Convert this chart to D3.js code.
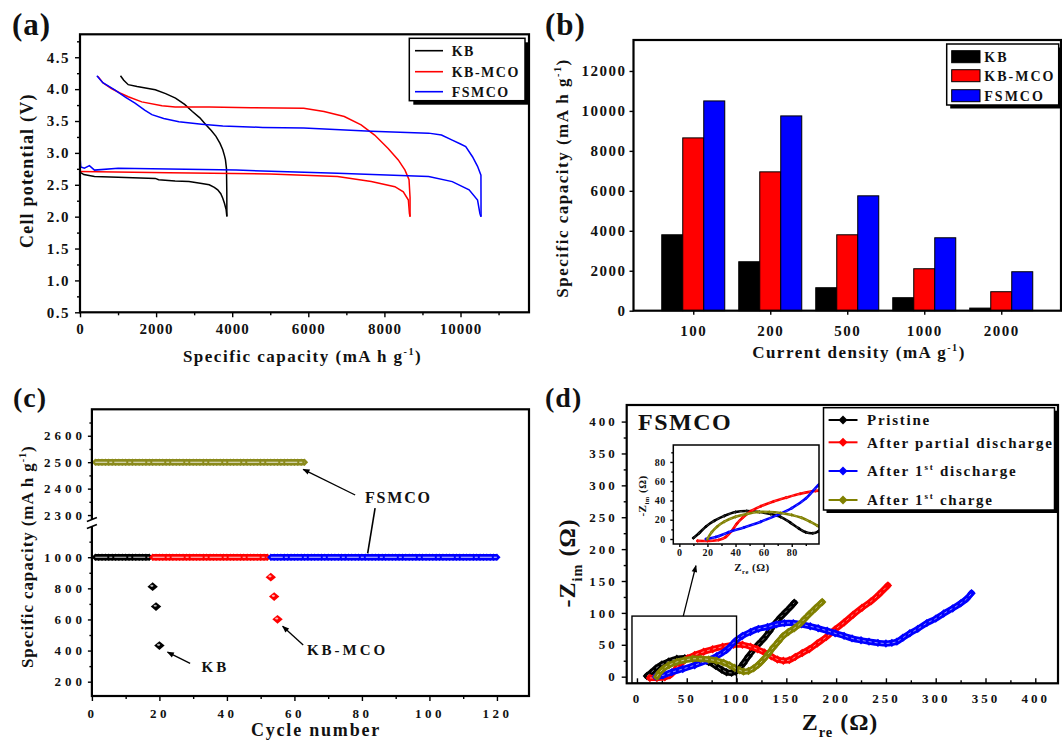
<!DOCTYPE html>
<html><head><meta charset="utf-8">
<script src="https://cdn.jsdelivr.net/npm/d3@7"></script>
<style>
html,body{margin:0;padding:0;background:#fff;}
svg text{font-family:"Liberation Serif","Times New Roman",serif;font-weight:bold;fill:#111;}
</style></head><body>
<svg id="fig" width="1062" height="742"></svg>
<script>
// ================= DATA =================
// (a) charge / discharge profiles  [capacity mAh/g, potential V]
const kbCharge = [[1064,4.21],[1150,4.14],[1268,4.07],[1500,4.04],[1978,3.99],[2250,3.93],[2510,3.86],[2750,3.76],[2953,3.65],[3150,3.55],[3308,3.44],[3450,3.35],[3574,3.26],[3680,3.15],[3752,3.05],[3800,2.95],[3823,2.89],[3850,2.75],[3858,2.4],[3860,2.0]];
const kbDischarge = [[0,2.70],[100,2.66],[381,2.63],[1000,2.62],[1978,2.60],[2067,2.58],[2500,2.56],[2865,2.55],[3200,2.52],[3397,2.50],[3530,2.46],[3619,2.42],[3700,2.36],[3752,2.29],[3796,2.21],[3840,2.11],[3858,2.01]];
const kbmcoCharge = [[470,4.20],[600,4.10],[825,4.01],[1050,3.94],[1268,3.88],[1623,3.80],[2155,3.74],[2500,3.72],[3397,3.72],[4500,3.71],[5880,3.70],[6412,3.65],[6945,3.57],[7388,3.44],[7743,3.28],[8098,3.07],[8364,2.89],[8541,2.73],[8647,2.58],[8674,2.3],[8674,2.0]];
const kbmcoDischarge = [[0,2.71],[2333,2.69],[4993,2.67],[6767,2.63],[7654,2.55],[8275,2.47],[8497,2.39],[8630,2.26],[8657,2.05],[8674,2.0]];
const fsmcoCharge = [[443,4.21],[600,4.10],[913,3.99],[1200,3.87],[1446,3.78],[1700,3.67],[1889,3.60],[2200,3.54],[2599,3.49],[3200,3.45],[3752,3.42],[4800,3.40],[5880,3.39],[7654,3.34],[9162,3.31],[9500,3.28],[9783,3.20],[10000,3.14],[10137,3.10],[10315,2.94],[10448,2.79],[10537,2.65],[10540,2.0]];
const fsmcoDischarge = [[0,3.41],[5,2.9],[20,2.78],[115,2.76],[248,2.80],[381,2.73],[1002,2.76],[4106,2.73],[6767,2.68],[9162,2.63],[9783,2.55],[10226,2.42],[10448,2.26],[10510,2.05],[10537,2.0]];
const aXTicks = [0,2000,4000,6000,8000,10000];
const aXMinor = [1000,3000,5000,7000,9000,11000];
const aYTicks = [0.5,1.0,1.5,2.0,2.5,3.0,3.5,4.0,4.5];
const aYMinor = [0.75,1.25,1.75,2.25,2.75,3.25,3.75,4.25,4.75];
const aLegend = ["KB","KB-MCO","FSMCO"];

// (b) rate capability
const bCategories = ["100","200","500","1000","2000"];
const bKB    = [3800,2450,1150,650,130];
const bKBMCO = [8650,6950,3800,2100,950];
const bFSMCO = [10500,9750,5750,3650,1950];
const bYTicks = [0,2000,4000,6000,8000,10000,12000];

// (c) cycling (capacity per cycle, first cycle number given)
const cKbStart = 1;
const cKbCap = [
 1000,1000,1000,1000,1000,1000,1000,1000,1000,1000,
 1000,1000,1000,1000,1000,1000,1000];
const cKbDrop = [[18,811],[19,683],[20,432]];
const cKbmcoStart = 18;
const cKbmcoCap = [
 1000,1000,1000,1000,1000,1000,1000,1000,1000,1000,
 1000,1000,1000,1000,1000,1000,1000,1000,1000,1000,
 1000,1000,1000,1000,1000,1000,1000,1000,1000,1000,
 1000,1000,1000,1000,1000];
const cKbmcoDrop = [[53,872],[54,747],[55,601]];
const cFsmcoLowStart = 53;
const cFsmcoLowCap = [
 1000,1000,1000,1000,1000,1000,1000,1000,1000,1000,
 1000,1000,1000,1000,1000,1000,1000,1000,1000,1000,
 1000,1000,1000,1000,1000,1000,1000,1000,1000,1000,
 1000,1000,1000,1000,1000,1000,1000,1000,1000,1000,
 1000,1000,1000,1000,1000,1000,1000,1000,1000,1000,
 1000,1000,1000,1000,1000,1000,1000,1000,1000,1000,
 1000,1000,1000,1000,1000,1000,1000,1000];
const cFsmcoHighStart = 1;
const cFsmcoHighCap = [
 2500,2500,2500,2500,2500,2500,2500,2500,2500,2500,
 2500,2500,2500,2500,2500,2500,2500,2500,2500,2500,
 2500,2500,2500,2500,2500,2500,2500,2500,2500,2500,
 2500,2500,2500,2500,2500,2500,2500,2500,2500,2500,
 2500,2500,2500,2500,2500,2500,2500,2500,2500,2500,
 2500,2500,2500,2500,2500,2500,2500,2500,2500,2500,
 2500,2500,2500];
const cXTicks = [0,20,40,60,80,100,120];
const cXMinor = [10,30,50,70,90,110];
const cYUpTicks = [2300,2400,2500,2600];
const cYUpMinor = [2350,2450,2550,2650];
const cYLoTicks = [200,400,600,800,1000];
const cYLoMinor = [300,500,700,900,1100];

// (d) Nyquist plots [Z_re, -Z_im] (ohm)
const dPristine = [[10,1],[14,6],[19,13],[25,19],[32,24],[40,28],[48,29],[57,28],[65,26],[72,23],[79,17],[85,11],[90,7],[95,6],[99,8],[103,13],[107,21],[112,32],[117,42],[122,51],[127,59],[133,71],[139,84],[144,93],[149,101],[154,109],[158,116]];
const dPartial = [[13,-2],[20,-2],[28,-1],[33,2],[37,8],[41,16],[45,22],[51,29],[58,34],[67,39],[76,43],[86,47],[97,50],[106,50],[114,47],[121,43],[128,38],[135,32],[141,27],[147,25],[153,26],[159,31],[166,37],[173,43],[181,52],[190,62],[199,74],[208,85],[217,97],[226,108],[235,118],[243,129],[252,143]];
const dDischarge1 = [[19,0],[26,2],[35,7],[46,12],[58,18],[70,25],[80,32],[90,42],[99,56],[106,64],[114,70],[122,75],[131,78],[140,82],[148,84],[157,84],[165,82],[174,79],[182,76],[191,72],[199,68],[208,64],[216,60],[225,57],[233,55],[242,53],[250,52],[256,53],[261,55],[267,61],[274,68],[282,75],[291,84],[300,91],[308,99],[317,107],[325,115],[331,122],[336,131]];
const dCharge1 = [[20,0],[23,7],[27,13],[32,18],[40,23],[48,26],[56,28],[64,28],[72,27],[80,25],[87,22],[93,18],[98,14],[103,10],[107,8],[112,9],[117,13],[122,19],[127,27],[132,36],[137,46],[142,55],[147,64],[152,70],[158,76],[163,82],[168,90],[173,98],[179,107],[186,117]];
const dTicks = [0,50,100,150,200,250,300,350,400];
const dMinor = [25,75,125,175,225,275,325,375];
const dInsetTicks = [0,20,40,60,80];
const dInsetMinor = [10,30,50,70,90];

// ================= DRAWING =================
const svg = d3.select("#fig");
svg.append("rect").attr("width",1062).attr("height",742).attr("fill","#fff");
const defs = svg.append("defs");
defs.append("marker").attr("id","arr").attr("viewBox","0 0 10 10")
  .attr("refX",9).attr("refY",5).attr("markerWidth",8).attr("markerHeight",7)
  .attr("markerUnits","userSpaceOnUse").attr("orient","auto")
  .append("path").attr("d","M0,1 L10,5 L0,9 Z").attr("fill","#000");
const fmtInt = d3.format("d");

function mkAxis(parent, gen, tx, ty, fs, ls){
  const a = parent.append("g").attr("transform",`translate(${tx},${ty})`).call(gen);
  a.attr("font-family",null).attr("font-size",fs);
  a.select(".domain").remove();
  a.selectAll(".tick line").attr("stroke","#000").attr("stroke-width",1.4);
  a.selectAll(".tick text").attr("fill","#111").attr("letter-spacing",ls||0);
  return a;
}
function richText(g, x, y, o, parts){
  const t = g.append("text").attr("font-size",o.fs).attr("letter-spacing",o.ls||0)
    .attr("text-anchor",o.anchor||"middle");
  if(o.rot!==undefined) t.attr("transform",`translate(${x},${y}) rotate(${o.rot})`);
  else t.attr("x",x).attr("y",y);
  if(o.dy) t.attr("dy",o.dy);
  let shift=0;
  parts.forEach(p=>{
    const s=t.append("tspan").text(p.t);
    let target=0,size=null;
    if(p.sup){target=-o.fs*0.42;size=o.fs*0.6;}
    if(p.sub){target=o.fs*0.28;size=o.fs*0.6;}
    if(size) s.attr("font-size",size);
    if(target!==shift){s.attr("dy",target-shift);shift=target;}
  });
  return t;
}
function frame(g,P,w){
  g.append("rect").attr("x",P.l).attr("y",P.t).attr("width",P.r-P.l).attr("height",P.b-P.t)
   .attr("fill","none").attr("stroke","#000").attr("stroke-width",w||2);
}
function legendBox(g,x,y,w,h,off){
  g.append("rect").attr("x",x+off).attr("y",y+off).attr("width",w).attr("height",h).attr("fill","#000");
  g.append("rect").attr("x",x).attr("y",y).attr("width",w).attr("height",h)
   .attr("fill","#fff").attr("stroke","#000").attr("stroke-width",1.5);
}
const diamond = (hw,hh)=>`M0,${-hh} L${hw},0 L0,${hh} L${-hw},0 Z`;

// ---------- (a) ----------
{
  const P={l:80,r:529,t:34.3,b:312.3};
  const g=svg.append("g");
  const x=d3.scaleLinear().domain([0,11800]).range([P.l,P.r]);
  const y=d3.scaleLinear().domain([0.5,4.86]).range([P.b,P.t]);
  mkAxis(g,d3.axisBottom(x).tickValues(aXMinor).tickSize(3).tickFormat(""),0,P.b,15);
  mkAxis(g,d3.axisBottom(x).tickValues(aXTicks).tickSize(5).tickPadding(6).tickFormat(fmtInt),0,P.b,15,1);
  mkAxis(g,d3.axisLeft(y).tickValues(aYMinor).tickSize(3).tickFormat(""),P.l,0,15);
  mkAxis(g,d3.axisLeft(y).tickValues(aYTicks).tickSize(5).tickPadding(5).tickFormat(d3.format(".1f")),P.l,0,15,1.5);
  const line=d3.line().x(d=>x(d[0])).y(d=>y(d[1]));
  const series=[[kbCharge,"#000"],[kbDischarge,"#000"],[kbmcoCharge,"#ff0000"],[kbmcoDischarge,"#ff0000"],[fsmcoCharge,"#0000ff"],[fsmcoDischarge,"#0000ff"]];
  series.forEach(([d,c])=>g.append("path").attr("d",line(d)).attr("fill","none").attr("stroke",c).attr("stroke-width",1.5));
  frame(g,P,2.2);
  legendBox(g,409.3,38.3,115.7,62.4,4);
  const lc=["#000","#ff0000","#0000ff"], ly=[50.7,71.7,91.7];
  aLegend.forEach((n,i)=>{
    g.append("line").attr("x1",415).attr("x2",443).attr("y1",ly[i]).attr("y2",ly[i]).attr("stroke",lc[i]).attr("stroke-width",1.6);
    g.append("text").attr("x",451.7).attr("y",ly[i]).attr("dy","0.35em").attr("font-size",14).attr("letter-spacing",1.5).text(n);
  });
  g.append("text").attr("x",12).attr("y",35).attr("font-size",31).attr("letter-spacing",1).text("(a)");
  richText(g,302.6,362,{fs:17,ls:1.5},[{t:"Specific capacity (mA h g"},{t:"-1",sup:true},{t:")"}]);
  richText(g,27,170.7,{fs:18,ls:1.2,rot:-90,dy:"0.35em"},[{t:"Cell potential (V)"}]);
}

// ---------- (b) ----------
{
  const P={l:633.5,r:1061,t:40,b:310.7};
  const g=svg.append("g");
  const x=d3.scalePoint().domain(bCategories).range([P.l,P.r]).padding(0.776);
  const y=d3.scaleLinear().domain([0,13550]).range([P.b,P.t]);
  const names=["KB","KB-MCO","FSMCO"], cols=["#000","#ff0000","#0000ff"], vals=[bKB,bKBMCO,bFSMCO];
  const inner=d3.scaleBand().domain(names).range([-31.5,31.5]);
  names.forEach((n,si)=>{
    g.selectAll(null).data(vals[si]).join("rect")
     .attr("x",(d,i)=>x(bCategories[i])+inner(n)).attr("width",inner.bandwidth())
     .attr("y",d=>y(d)).attr("height",d=>P.b-y(d))
     .attr("fill",cols[si]).attr("stroke","#000").attr("stroke-width",1);
  });
  mkAxis(g,d3.axisBottom(x).tickSize(4).tickPadding(11),0,P.b,15,1.5);
  mkAxis(g,d3.axisLeft(y).tickValues(bYTicks).tickSize(4).tickPadding(3).tickFormat(fmtInt),P.l,0,15,1.5);
  frame(g,P,2.2);
  legendBox(g,946.7,44,112,61,3.5);
  const ry=[56.7,75.7,95.7];
  names.forEach((n,i)=>{
    g.append("rect").attr("x",951.7).attr("y",ry[i]-6).attr("width",28.3).attr("height",12).attr("fill",cols[i]).attr("stroke","#000").attr("stroke-width",1);
    g.append("text").attr("x",984.3).attr("y",ry[i]).attr("dy","0.35em").attr("font-size",14).attr("letter-spacing",2).text(n);
  });
  g.append("text").attr("x",545).attr("y",35).attr("font-size",31).attr("letter-spacing",1).text("(b)");
  richText(g,859,358,{fs:17,ls:1.5},[{t:"Current density (mA g"},{t:"-1",sup:true},{t:")"}]);
  richText(g,562,178,{fs:17,ls:1.5,rot:-90,dy:"0.35em"},[{t:"Specific capacity (mA h g"},{t:"-1",sup:true},{t:")"}]);
}

// ---------- (c) ----------
{
  const P={l:91.9,r:529,t:409.3,b:696};
  const g=svg.append("g");
  const x=d3.scaleLinear().domain([0,129.5]).range([P.l,P.r]);
  const yUp=d3.scaleLinear().domain([2270,2700]).range([523,P.t]);
  const yLo=d3.scaleLinear().domain([108,1220]).range([P.b,523]);
  mkAxis(g,d3.axisBottom(x).tickValues(cXMinor).tickSize(3).tickFormat(""),0,P.b,13);
  mkAxis(g,d3.axisBottom(x).tickValues(cXTicks).tickSize(5).tickPadding(8).tickFormat(fmtInt),0,P.b,13,3.5);
  mkAxis(g,d3.axisLeft(yUp).tickValues(cYUpMinor).tickSize(2.5).tickFormat(""),P.l,0,13);
  mkAxis(g,d3.axisLeft(yLo).tickValues(cYLoMinor).tickSize(2.5).tickFormat(""),P.l,0,13);
  mkAxis(g,d3.axisLeft(yUp).tickValues(cYUpTicks).tickSize(4).tickPadding(2).tickFormat(fmtInt),P.l,0,13,4);
  mkAxis(g,d3.axisLeft(yLo).tickValues(cYLoTicks).tickSize(4).tickPadding(2).tickFormat(fmtInt),P.l,0,13,4);
  function band(start,caps,yS,col){
    const pts=caps.map((v,i)=>[x(start+i),yS(v)]);
    g.append("path").attr("d",d3.line()(pts)).attr("fill","none").attr("stroke",col).attr("stroke-width",6.4);
    g.selectAll(null).data(pts).join("path").attr("d",diamond(3.6,3.8))
      .attr("transform",d=>`translate(${d[0]},${d[1]})`).attr("fill",col);
    g.append("path").attr("d",d3.line()(pts)).attr("fill","none").attr("stroke","#fff")
      .attr("stroke-width",1.1).attr("stroke-opacity",0.8).attr("stroke-dasharray","12,2,3,2");
  }
  band(cFsmcoHighStart,cFsmcoHighCap,yUp,"#8a8a1c");
  band(cKbStart,cKbCap,yLo,"#000");
  band(cKbmcoStart,cKbmcoCap,yLo,"#ff0000");
  band(cFsmcoLowStart,cFsmcoLowCap,yLo,"#0000ff");
  function drops(d,col){
    const gg=g.selectAll(null).data(d).join("g").attr("transform",p=>`translate(${x(p[0])},${yLo(p[1])})`);
    gg.append("path").attr("d",diamond(5.2,4.4)).attr("fill",col);
    gg.append("ellipse").attr("cx",-0.8).attr("cy",-0.8).attr("rx",1.6).attr("ry",1.1).attr("fill","#fff").attr("opacity",0.7);
  }
  drops(cKbDrop,"#000"); drops(cKbmcoDrop,"#ff0000");
  // annotations
  g.append("line").attr("x1",x(78.0)).attr("y1",yUp(2376)).attr("x2",x(62.6)).attr("y2",yUp(2473))
   .attr("stroke","#000").attr("stroke-width",1.3).attr("marker-end","url(#arr)");
  g.append("line").attr("x1",x(83.9)).attr("y1",yUp(2326)).attr("x2",x(81.7)).attr("y2",yLo(1025))
   .attr("stroke","#000").attr("stroke-width",1.6);
  g.append("text").attr("x",x(80.9)).attr("y",yUp(2346)).attr("font-size",16).attr("letter-spacing",1.8).text("FSMCO");
  g.append("line").attr("x1",x(29.1)).attr("y1",yLo(318)).attr("x2",x(22.4)).attr("y2",yLo(390))
   .attr("stroke","#000").attr("stroke-width",1.3).attr("marker-end","url(#arr)");
  g.append("text").attr("x",x(32.5)).attr("y",yLo(262)).attr("font-size",15).attr("letter-spacing",3).text("KB");
  g.append("line").attr("x1",x(62.6)).attr("y1",yLo(436)).attr("x2",x(56.5)).attr("y2",yLo(556))
   .attr("stroke","#000").attr("stroke-width",1.3).attr("marker-end","url(#arr)");
  g.append("text").attr("x",x(63.7)).attr("y",yLo(371)).attr("font-size",15).attr("letter-spacing",3).text("KB-MCO");
  frame(g,P,2.2);
  // axis break marks
  g.append("rect").attr("x",P.l-3).attr("y",519.5).attr("width",6).attr("height",7).attr("fill","#fff");
  [519.5,526.5].forEach(yy=>g.append("line").attr("x1",P.l-5).attr("y1",yy+2).attr("x2",P.l+5).attr("y2",yy-2)
     .attr("stroke","#000").attr("stroke-width",1.6));
  g.append("text").attr("x",13).attr("y",407).attr("font-size",28).attr("letter-spacing",1).text("(c)");
  richText(g,316,736,{fs:18,ls:1.8},[{t:"Cycle number"}]);
  richText(g,27,556.7,{fs:17,ls:0.9,rot:-90,dy:"0.35em"},[{t:"Specific capacity (mA h g"},{t:"-1",sup:true},{t:")"}]);
}

// ---------- (d) ----------
{
  const P={l:626.7,r:1058,t:405,b:683.3};
  const g=svg.append("g");
  const x=d3.scaleLinear().domain([-10.3,422.8]).range([P.l,P.r]);
  const y=d3.scaleLinear().domain([-10.4,426]).range([P.b,P.t]);
  mkAxis(g,d3.axisBottom(x).tickValues(dMinor).tickSizeInner(-3).tickSizeOuter(0).tickFormat(""),0,P.b,13);
  mkAxis(g,d3.axisBottom(x).tickValues(dTicks).tickSizeInner(-5).tickSizeOuter(0).tickPadding(10.5).tickFormat(fmtInt),0,P.b,13,3);
  mkAxis(g,d3.axisLeft(y).tickValues(dMinor).tickSize(3).tickFormat(""),P.l,0,13);
  mkAxis(g,d3.axisLeft(y).tickValues(dTicks).tickSize(5).tickPadding(4).tickFormat(fmtInt),P.l,0,13,3);
  const names=["Pristine","After partial discharge","After 1st discharge","After 1st charge"];
  const cols=["#000","#ff0000","#0000ff","#808000"];
  const sets=[dPristine,dPartial,dDischarge1,dCharge1];
  function drawSeries(gg,xs,ys,d,col,lw,mk){
    const line=d3.line().x(p=>xs(p[0])).y(p=>ys(p[1])).curve(d3.curveCatmullRom);
    gg.append("path").attr("d",line(d)).attr("fill","none").attr("stroke",col).attr("stroke-width",lw).attr("stroke-linecap","round");
    gg.selectAll(null).data(d).join("path").attr("d",diamond(mk,mk))
      .attr("transform",p=>`translate(${xs(p[0])},${ys(p[1])})`).attr("fill",col);
    gg.append("path").attr("d",line(d)).attr("fill","none").attr("stroke","#fff").attr("stroke-width",lw*0.15)
      .attr("stroke-opacity",0.6).attr("stroke-dasharray","3,3");
  }
  sets.forEach((d,i)=>drawSeries(g,x,y,d,cols[i],6.2,4.2));
  // zoom box + arrow
  g.append("rect").attr("x",x(-5)).attr("y",y(95)).attr("width",x(100)-x(-5)).attr("height",P.b-y(95))
   .attr("fill","none").attr("stroke","#000").attr("stroke-width",1.4);
  g.append("line").attr("x1",x(46.5)).attr("y1",y(95)).attr("x2",x(59.2)).attr("y2",y(174))
   .attr("stroke","#000").attr("stroke-width",1.3).attr("marker-end","url(#arr)");
  frame(g,P,2.2);
  g.append("text").attr("x",638).attr("y",430).attr("font-size",24).attr("letter-spacing",1.5).text("FSMCO");
  // legend
  legendBox(g,823.5,407.7,231,102.3,3);
  const ly=[420,442.3,471,500];
  names.forEach((n,i)=>{
    g.append("line").attr("x1",828.6).attr("x2",857.5).attr("y1",ly[i]).attr("y2",ly[i]).attr("stroke",cols[i]).attr("stroke-width",2);
    g.append("path").attr("d",diamond(4.5,4.5)).attr("transform",`translate(843,${ly[i]})`).attr("fill",cols[i]);
  });
  const lt=[[{t:"Pristine"}],[{t:"After partial discharge"}],[{t:"After 1"},{t:"st",sup:true},{t:" discharge"}],[{t:"After 1"},{t:"st",sup:true},{t:" charge"}]];
  lt.forEach((parts,i)=>richText(g,867,ly[i],{fs:15,ls:1.75,anchor:"start",dy:"0.35em"},parts));
  // inset
  const I={l:673.3,r:819,t:445,b:544};
  const xi=d3.scaleLinear().domain([-4.3,99.4]).range([I.l,I.r]);
  const yi=d3.scaleLinear().domain([-5.2,97.6]).range([I.b,I.t]);
  g.append("rect").attr("x",I.l).attr("y",I.t).attr("width",I.r-I.l).attr("height",I.b-I.t).attr("fill","#fff");
  defs.append("clipPath").attr("id","insetClip").append("rect")
    .attr("x",I.l).attr("y",I.t).attr("width",I.r-I.l).attr("height",I.b-I.t);
  const gi=g.append("g").attr("clip-path","url(#insetClip)");
  sets.forEach((d,i)=>drawSeries(gi,xi,yi,d,cols[i],2.6,1.8));
  mkAxis(g,d3.axisBottom(xi).tickValues(dInsetMinor).tickSize(2).tickFormat(""),0,I.b,10);
  mkAxis(g,d3.axisBottom(xi).tickValues(dInsetTicks).tickSize(3).tickPadding(2).tickFormat(fmtInt),0,I.b,10,0.5);
  mkAxis(g,d3.axisLeft(yi).tickValues(dInsetMinor).tickSize(2).tickFormat(""),I.l,0,10);
  mkAxis(g,d3.axisLeft(yi).tickValues(dInsetTicks).tickSize(3).tickPadding(4.5).tickFormat(fmtInt),I.l,0,10,0.5);
  frame(g,I,1.5);
  richText(g,641.7,496,{fs:11,ls:0.5,rot:-90,dy:"0.35em"},[{t:"-Z"},{t:"im",sub:true},{t:" (Ω)"}]);
  richText(g,752,571,{fs:11,ls:0.5},[{t:"Z"},{t:"re",sub:true},{t:" (Ω)"}]);
  g.append("text").attr("x",545).attr("y",407).attr("font-size",28).attr("letter-spacing",1).text("(d)");
  richText(g,840,730,{fs:24,ls:1},[{t:"Z"},{t:"re",sub:true},{t:" (Ω)"}]);
  richText(g,567,563,{fs:24,ls:1,rot:-90,dy:"0.35em"},[{t:"-Z"},{t:"im",sub:true},{t:" (Ω)"}]);
}
</script>
</body></html>
